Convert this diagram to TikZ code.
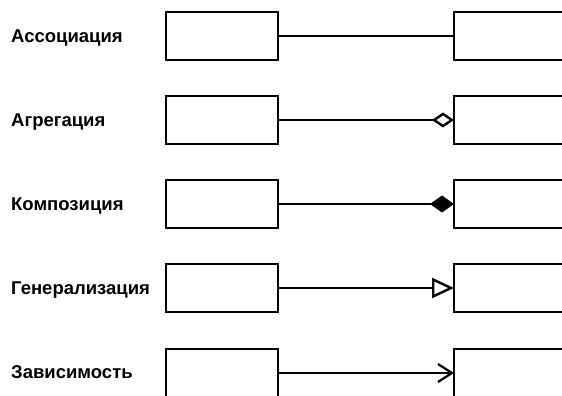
\documentclass[tikz,border=0pt]{standalone}
\usepackage{fontspec}
\setmainfont{Liberation Sans}
\usetikzlibrary{arrows.meta}
\begin{document}
\begin{tikzpicture}[x=1pt,y=1pt,
  leftbox/.style={draw, line width=2.5pt, minimum width=112pt, minimum height=48pt, inner sep=0pt, outer sep=0pt},
  rightbox/.style={draw, line width=2.5pt, minimum width=150pt, minimum height=48pt, inner sep=0pt, outer sep=0pt},
  lab/.style={anchor=base west, inner sep=0pt, font=\fontsize{18.5}{20}\selectfont\bfseries},
  conn/.style={line width=2.4pt},
  thinconn/.style={line width=1.3pt}
]
\fill[white] (0,0) rectangle (562,396);
\clip (0,0) rectangle (562,396);
% rows
\foreach \i/\y in {1/360,2/276,3/192,4/108,5/23}{
  \node[leftbox] (a\i) at (222,\y) {};
  \node[rightbox] (b\i) at (529,\y) {};
}
\node[lab] (t1) at (11,353.5) {Ассоциация};
\node[lab] (t2) at (11,269.5) {Агрегация};
\node[lab] (t3) at (11,185.5) {Композиция};
\node[lab] (t4) at (11,101.5) {Генерализация};
\node[lab] (t5) at (11,17) {Зависимость};
\draw[conn] (a1.east) -- (b1.west);
\draw[conn, -{Diamond[open, length=22pt, width=15pt, line width=2.4pt]}] (a2.east) -- (b2.west);
\draw[conn, -{Diamond[length=24pt, width=17pt]}] (a3.east) -- (b3.west);
\draw[conn, -{Triangle[open, length=22pt, width=20pt, line width=2.4pt]}] (a4.east) -- (b4.west);
\draw[thinconn, -{Straight Barb[length=14pt, width=18pt, line width=2.2pt]}] (a5.east) -- (b5.west);
\end{tikzpicture}
\end{document}
